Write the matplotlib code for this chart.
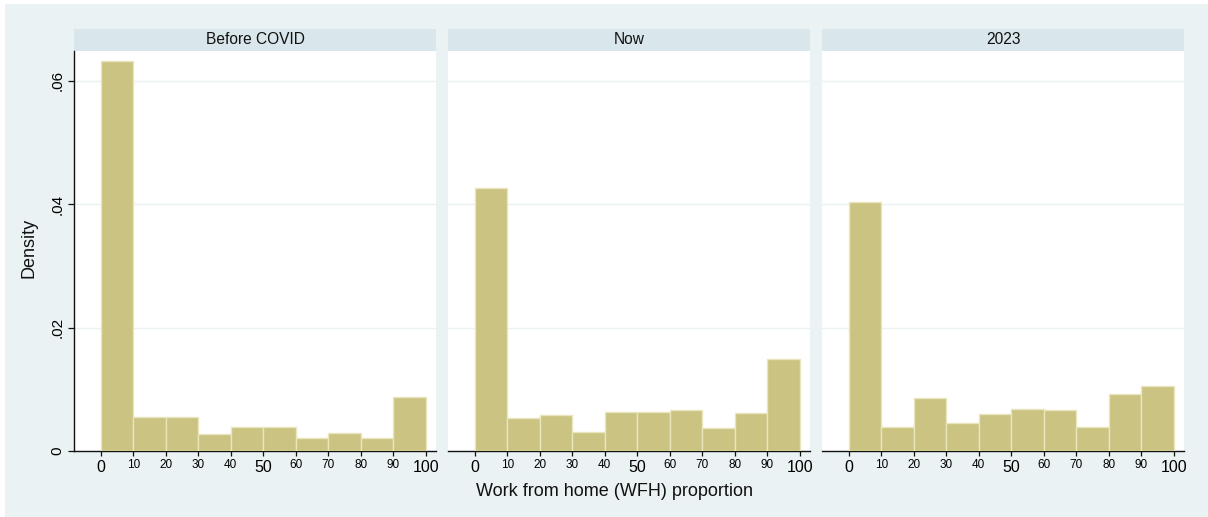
import matplotlib
matplotlib.use("Agg")
import matplotlib.pyplot as plt
from matplotlib.patches import Rectangle
import numpy as np

plt.rcParams['font.family'] = ['Liberation Sans', 'DejaVu Sans']

# ---- data ----
bin_edges = [0, 10, 20, 30, 40, 50, 60, 70, 80, 90, 100]
panel_titles = ["Before COVID", "Now", "2023"]
density_before = [0.0632, 0.00546, 0.00546, 0.0027, 0.00389, 0.00389, 0.00206, 0.00287, 0.00206, 0.00875]
density_now = [0.0426, 0.0053, 0.00583, 0.00313, 0.00637, 0.00637, 0.00659, 0.00372, 0.0061, 0.0149]
density_2023 = [0.0403, 0.00389, 0.00858, 0.00453, 0.00594, 0.00685, 0.00669, 0.00389, 0.00918, 0.01058]
y_ticks = [0, 0.02, 0.04, 0.06]
y_tick_labels = ["0", ".02", ".04", ".06"]
x_major = [0, 50, 100]
x_minor = [10, 20, 30, 40, 60, 70, 80, 90]

series = [density_before, density_now, density_2023]

W, H = 1208, 517
fig = plt.figure(figsize=(W / 100, H / 100), dpi=100, facecolor="white")

BG = "#EAF2F3"
STRIP = "#D9E6EB"
BAR = "#CBC382"
EDGE = "#E9E5BD"

def px(x0, y0, x1, y1):
    # convert pixel box (top-left origin) to figure fraction [l, b, w, h]
    return [x0 / W, (H - y1) / H, (x1 - x0) / W, (y1 - y0) / H]

fig.patches.append(Rectangle((5 / W, 0), (W - 5) / W, (H - 4) / H,
                             transform=fig.transFigure, facecolor=BG,
                             edgecolor="none", zorder=-10))

panel_x = [(74, 436), (448, 810), (822, 1184)]
top, bottom = 51, 451
strip_top = 29

edges = np.array(bin_edges)
for i, (x0, x1) in enumerate(panel_x):
    ax = fig.add_axes(px(x0, top, x1, bottom))
    ax.set_facecolor("white")
    vals = series[i]
    ax.bar(edges[:-1], vals, width=np.diff(edges), align="edge",
           color=BAR, edgecolor=EDGE, linewidth=1.0, zorder=3)
    ax.set_xlim(-8.2, 103.1)
    ax.set_ylim(0, 0.0648)
    for yv in y_ticks[1:]:
        ax.axhline(yv, color=BG, linewidth=1.0, zorder=1)
    for s in ["top", "right"]:
        ax.spines[s].set_visible(False)
    ax.spines["bottom"].set_color("#111111")
    ax.spines["bottom"].set_linewidth(1.0)
    ax.set_xticks(x_major)
    ax.set_xticklabels([str(v) for v in x_major], fontsize=11.5)
    ax.set_xticks(x_minor, minor=True)
    ax.set_xticklabels([str(v) for v in x_minor], minor=True, fontsize=8.5)
    ax.tick_params(axis="x", which="major", length=3.8, width=0.9, pad=2.6, color="#111111")
    ax.tick_params(axis="x", which="minor", length=3.8, width=0.9, pad=1.6, color="#111111")
    if i == 0:
        ax.spines["left"].set_color("#111111")
        ax.spines["left"].set_linewidth(1.0)
        ax.set_yticks(y_ticks)
        ax.set_yticklabels(y_tick_labels, fontsize=11, rotation=90, va="center")
        ax.tick_params(axis="y", length=4.3, width=0.9, pad=2.5, color="#111111")
    else:
        ax.spines["left"].set_visible(False)
        ax.set_yticks([])
    # strip
    fig.patches.append(Rectangle((x0 / W, (H - top) / H), (x1 - x0) / W, (top - strip_top) / H,
                                 transform=fig.transFigure, facecolor=STRIP,
                                 edgecolor="none", zorder=-5))
    fig.text((x0 + x1) / 2 / W, (H - (top + strip_top) / 2) / H, panel_titles[i],
             ha="center", va="center", fontsize=11.2, color="#111111")

fig.text(615 / W, (H - 492) / H, "Work from home (WFH) proportion",
         ha="center", va="center", fontsize=13, color="#111111")
fig.text(29 / W, (H - 248) / H, "Density", rotation=90,
         ha="center", va="center", fontsize=13, color="#111111")

fig.savefig("out.png", dpi=100, facecolor="white")
